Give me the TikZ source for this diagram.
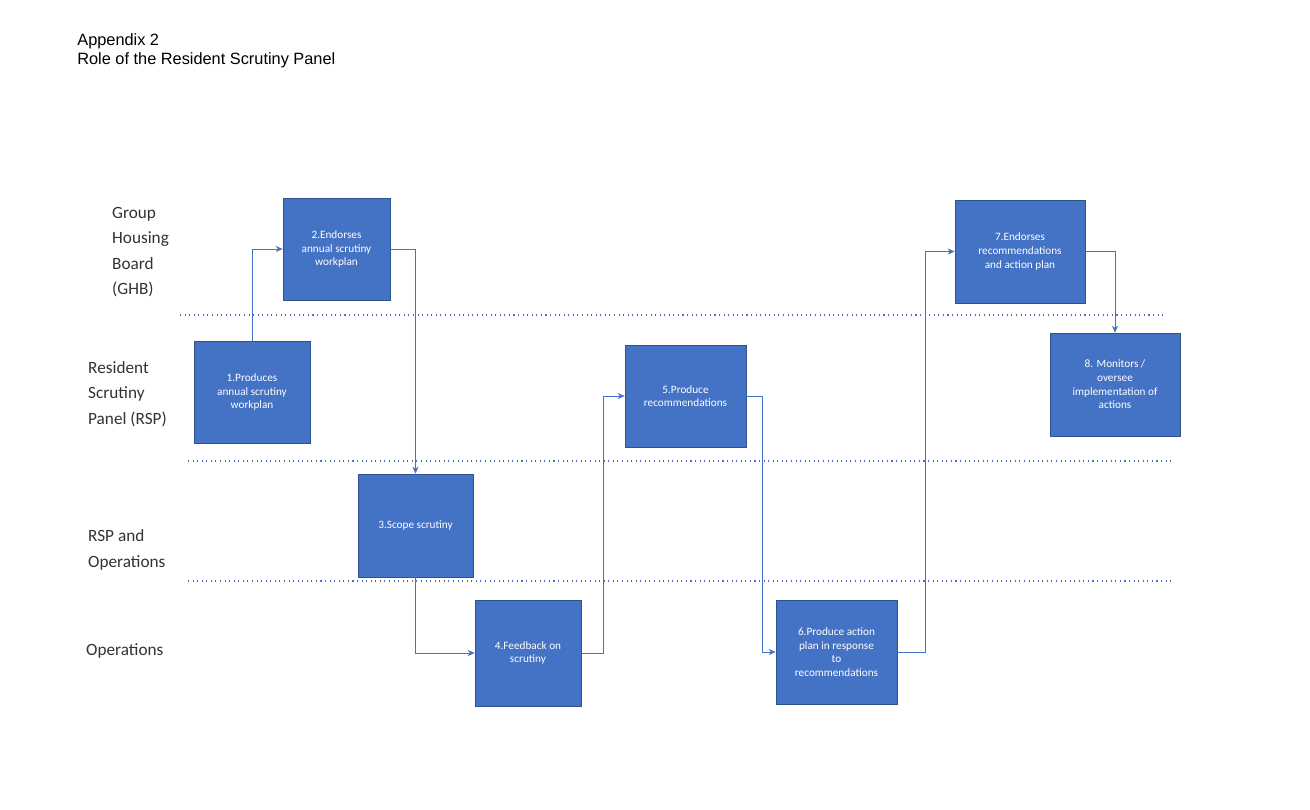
\documentclass[tikz,border=0pt]{standalone}
\usepackage{fontspec}
\setmainfont{Carlito}
\newfontfamily\arialf{Liberation Sans}
\usetikzlibrary{arrows.meta}
\definecolor{boxblue}{HTML}{4472C4}
\definecolor{boxedge}{HTML}{2F528F}
\tikzset{
 proc/.style={draw=boxedge,fill=boxblue,text=white,align=center,font=\fontsize{6.4}{7.8}\selectfont,inner sep=2pt},
 conn/.style={draw=boxblue,line width=0.5pt,-{Stealth[length=4pt,width=3.5pt]}},
 lane/.style={draw=boxblue,dotted,line width=0.6pt},
 lanelbl/.style={anchor=west,align=left,font=\fontsize{9.8}{14.5}\selectfont,text=black!80}
}
\begin{document}
\begin{tikzpicture}[x=0.02cm,y=-0.02cm]
\path[use as bounding box,fill=white] (0,0) rectangle (1310,809);
\node[anchor=north west,align=left,font=\arialf\fontsize{9.3}{11.2}\selectfont,inner sep=0] (title) at (77,33) {Appendix 2\\Role of the Resident Scrutiny Panel};
\draw[lane] (180,315) -- (1165,315);
\draw[lane] (188,461) -- (1172,461);
\draw[lane] (188,581) -- (1172,581);
\node[lanelbl] (l1) at (106,252) {Group\\Housing\\Board\\(GHB)};
\node[lanelbl] (l2) at (82,394) {Resident\\Scrutiny\\Panel (RSP)};
\node[lanelbl] (l3) at (82,550) {RSP and\\Operations};
\node[lanelbl] (l4) at (80,651) {Operations};
\node[proc,minimum width=116*0.02cm,minimum height=102*0.02cm] (b1) at (252,392) {1.Produces\\annual scrutiny\\workplan};
\node[proc,minimum width=107*0.02cm,minimum height=102*0.02cm] (b2) at (336.5,249) {2.Endorses\\annual scrutiny\\workplan};
\node[proc,minimum width=115*0.02cm,minimum height=103*0.02cm] (b3) at (415.5,525.5) {3.Scope scrutiny};
\node[proc,minimum width=106*0.02cm,minimum height=106*0.02cm] (b4) at (528,653) {4.Feedback on\\scrutiny};
\node[proc,minimum width=121*0.02cm,minimum height=102*0.02cm] (b5) at (685.5,396) {5.Produce\\recommendations};
\node[proc,minimum width=121*0.02cm,minimum height=104*0.02cm] (b6) at (836.5,652) {6.Produce action\\plan in response\\to\\recommendations};
\node[proc,minimum width=130*0.02cm,minimum height=103*0.02cm] (b7) at (1020,251.5) {7.Endorses\\recommendations\\and action plan};
\node[proc,minimum width=130*0.02cm,minimum height=103*0.02cm] (b8) at (1115,384.5) {8. Monitors /\\oversee\\implementation of\\actions};
\draw[conn] (b1.north) |- (b2.west);
\draw[conn] (b2.east) -| (b3.north);
\draw[conn] (b3.south) |- (b4.west);
\draw[conn] (b4.east) -- ++(22,0) |- (b5.west);
\draw[conn] (b5.east) -- ++(16,0) |- (b6.west);
\draw[conn] (b6.east) -- ++(28,0) |- (b7.west);
\draw[conn] (b7.east) -| (b8.north);
\end{tikzpicture}
\end{document}
